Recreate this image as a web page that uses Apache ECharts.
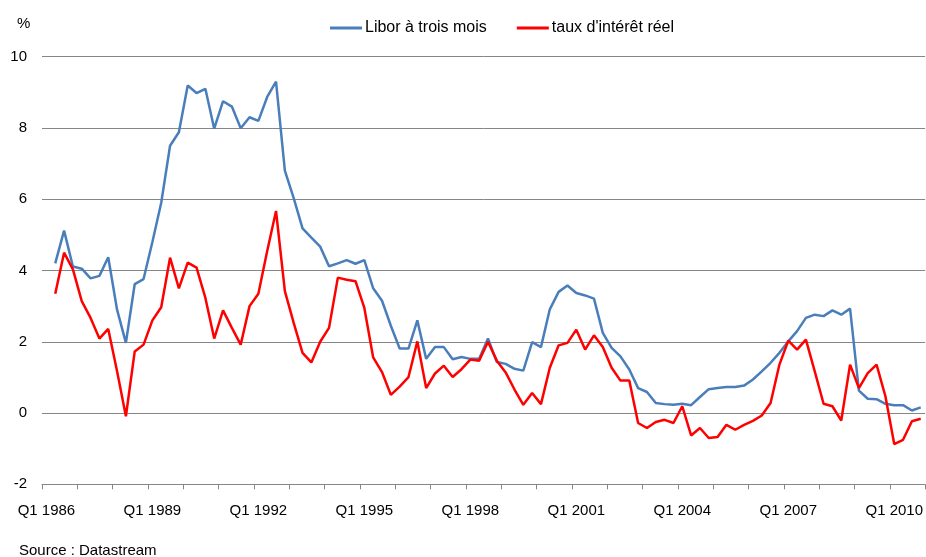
<!DOCTYPE html>
<html>
<head>
<meta charset="utf-8">
<script src="https://cdn.jsdelivr.net/npm/echarts@6/dist/echarts.min.js"></script>
<style>
html,body{margin:0;padding:0;background:#fff;}
#chart{width:926px;height:557px;}
</style>
</head>
<body>
<div id="chart"></div>
<script>
// Quarters Q1 1986 .. Q4 2010
var startYear = 1986;
var endYear = 2010;
var categories = [];
for (var y = startYear; y <= endYear; y++) {
  for (var q = 1; q <= 4; q++) categories.push('Q' + q + ' ' + y);
}

var seriesNames = ['Libor à trois mois', "taux d'intérêt réel"];

var libor = [
  null, 4.20, 5.12, 4.11, 4.05, 3.78, 3.85, 4.37, 2.90, 1.97,
  3.62, 3.76, 4.80, 5.90, 7.50, 7.88, 9.19, 8.98, 9.10, 7.98,
  8.75, 8.60, 7.99, 8.30, 8.20, 8.87, 9.30, 6.80, 6.03, 5.18,
  4.92, 4.67, 4.12, 4.20, 4.29, 4.19, 4.29, 3.50, 3.15, 2.45,
  1.81, 1.81, 2.60, 1.52, 1.85, 1.85, 1.51, 1.57, 1.52, 1.52,
  2.09, 1.43, 1.38, 1.24, 1.19, 1.99, 1.85, 2.91, 3.40, 3.58,
  3.37, 3.30, 3.21, 2.25, 1.83, 1.59, 1.22, 0.70, 0.59, 0.28,
  0.25, 0.23, 0.26, 0.22, 0.45, 0.67, 0.70, 0.73, 0.73, 0.77,
  0.94, 1.17, 1.41, 1.69, 2.01, 2.30, 2.67, 2.76, 2.72, 2.88,
  2.76, 2.93, 0.63, 0.40, 0.39, 0.26, 0.22, 0.22, 0.07, 0.16
];

var tauxReel = [
  null, 3.35, 4.50, 4.03, 3.14, 2.67, 2.09, 2.36, 1.17, -0.09,
  1.73, 1.92, 2.60, 2.97, 4.36, 3.50, 4.22, 4.08, 3.23, 2.09,
  2.88, 2.39, 1.92, 3.00, 3.35, 4.55, 5.67, 3.42, 2.53, 1.69,
  1.42, 2.00, 2.39, 3.80, 3.74, 3.70, 2.95, 1.56, 1.15, 0.51,
  0.74, 1.01, 2.01, 0.70, 1.11, 1.33, 1.01, 1.23, 1.50, 1.47,
  2.00, 1.47, 1.14, 0.66, 0.23, 0.56, 0.25, 1.27, 1.90, 1.97,
  2.34, 1.78, 2.18, 1.85, 1.27, 0.91, 0.91, -0.28, -0.42, -0.25,
  -0.19, -0.28, 0.19, -0.63, -0.42, -0.70, -0.67, -0.33, -0.47, -0.33,
  -0.22, -0.07, 0.28, 1.36, 2.03, 1.78, 2.06, 1.17, 0.26, 0.19,
  -0.21, 1.36, 0.70, 1.12, 1.36, 0.47, -0.87, -0.75, -0.23, -0.16
];

var yMin = -2, yMax = 10, yStep = 2;
var unitLabel = '%';
var sourceLabel = 'Source : Datastream';

var FONT = "'Liberation Sans', Arial, sans-serif";
var chart = echarts.init(document.getElementById('chart'), null, {renderer: 'canvas'});
chart.setOption({
  animation: false,
  backgroundColor: '#fff',
  textStyle: {fontFamily: FONT},
  grid: {left: 42, right: 0, top: 56.7, bottom: 72.7, containLabel: false},
  legend: {
    left: 325, top: 15,
    itemWidth: 32, itemHeight: 3, itemGap: 30,
    icon: 'rect',
    textStyle: {fontFamily: FONT, fontSize: 16, color: '#000', padding: [0, 0, 0, -2]},
    data: seriesNames
  },
  xAxis: {
    type: 'category',
    data: categories,
    boundaryGap: true,
    axisLine: {show: true, onZero: false, lineStyle: {color: '#868686', width: 1}},
    axisTick: {show: true, interval: 3, length: 5, lineStyle: {color: '#868686'}},
    axisLabel: {interval: 11, margin: 19, fontFamily: FONT, fontSize: 15, color: '#000'},
    splitLine: {show: false}
  },
  yAxis: {
    type: 'value',
    min: yMin, max: yMax, interval: yStep,
    axisLine: {show: false},
    axisTick: {show: false},
    axisLabel: {margin: 15, fontFamily: FONT, fontSize: 15, color: '#000'},
    splitLine: {show: true, lineStyle: {color: '#868686', width: 1}}
  },
  graphic: [
    {type: 'text', left: 17, top: 16, style: {text: unitLabel, font: '15px ' + FONT, fill: '#000'}},
    {type: 'text', left: 19, top: 543, style: {text: sourceLabel, font: '15px ' + FONT, fill: '#000'}}
  ],
  series: [
    {
      name: seriesNames[0], type: 'line', data: libor,
      showSymbol: false, symbol: 'none',
      lineStyle: {color: '#4a7ebb', width: 2.5},
      itemStyle: {color: '#4a7ebb'}
    },
    {
      name: seriesNames[1], type: 'line', data: tauxReel,
      showSymbol: false, symbol: 'none',
      lineStyle: {color: '#ff0000', width: 2.5},
      itemStyle: {color: '#ff0000'}
    }
  ]
});
</script>
</body>
</html>
